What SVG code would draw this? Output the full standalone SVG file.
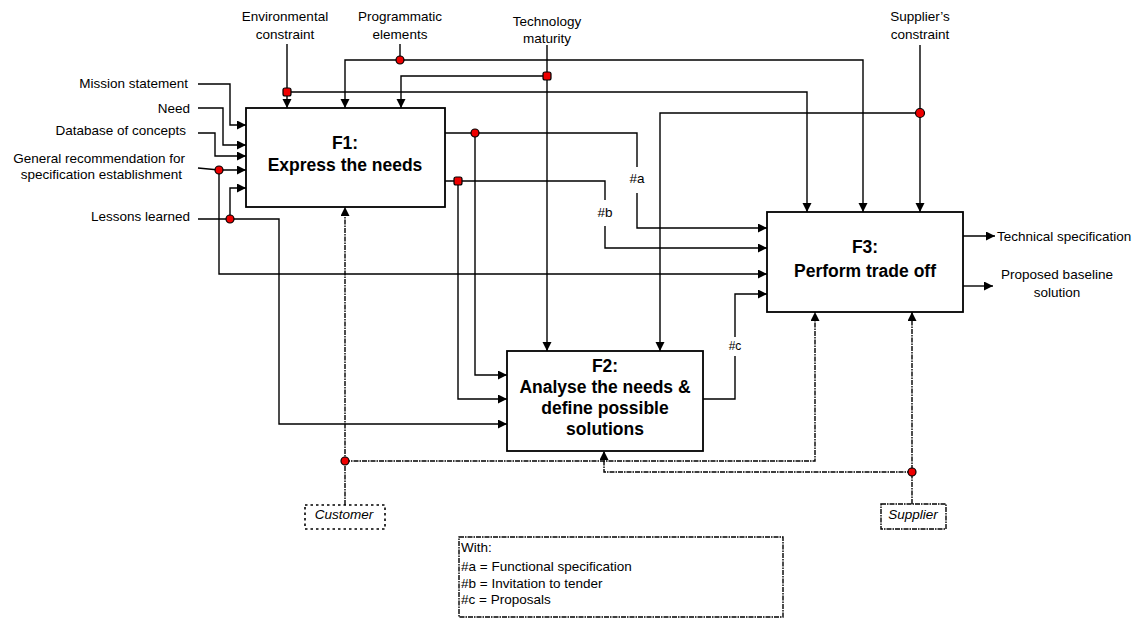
<svg xmlns="http://www.w3.org/2000/svg" width="1138" height="619" viewBox="0 0 1138 619">
<style>
.ln{fill:none;stroke:#000;stroke-width:1.4}
.dash{fill:none;stroke:#000;stroke-width:1.4;stroke-dasharray:5 1 1.5 1}
.dot2{fill:none;stroke:#000;stroke-width:1.6;stroke-dasharray:2.5 3}
.box{fill:#fff;stroke:#000;stroke-width:1.8}
.t{font-family:"Liberation Sans",Arial,sans-serif;font-size:13.5px;fill:#000}
.m{text-anchor:middle}
.e{text-anchor:end}
.b{font-weight:bold;font-size:17.5px;text-anchor:middle}
.i{font-style:italic}
.rd{fill:#e00;stroke:#000;stroke-width:1.2}
</style>
<defs>
<marker id="ah" markerUnits="userSpaceOnUse" markerWidth="10" markerHeight="10" refX="9" refY="4.5" orient="auto">
<path d="M0,0 L9,4.5 L0,9 z" fill="#000"/>
</marker>
</defs>

<g id="connectors">
<!-- left inputs to F1 -->
<path class="ln" d="M198,84 H230 V125 H246" marker-end="url(#ah)"/>
<path class="ln" d="M198,108 H223 V145 H246" marker-end="url(#ah)"/>
<path class="ln" d="M198,133 H215 V156 H246" marker-end="url(#ah)"/>
<path class="ln" d="M198,168 L219,170 H246" marker-end="url(#ah)"/>
<path class="ln" d="M219,170 V274 H767" marker-end="url(#ah)"/>
<path class="ln" d="M198,219 H279 V424 H507" marker-end="url(#ah)"/>
<path class="ln" d="M230,219 V188 H246" marker-end="url(#ah)"/>
<!-- top controls -->
<path class="ln" d="M287,44 V108" marker-end="url(#ah)"/>
<path class="ln" d="M287,92 H807 V212" marker-end="url(#ah)"/>
<path class="ln" d="M400,44 V60"/>
<path class="ln" d="M400,60 H345 V108" marker-end="url(#ah)"/>
<path class="ln" d="M400,60 H863 V212" marker-end="url(#ah)"/>
<path class="ln" d="M547,45 V351" marker-end="url(#ah)"/>
<path class="ln" d="M547,76 H401 V108" marker-end="url(#ah)"/>
<path class="ln" d="M920,45 V212" marker-end="url(#ah)"/>
<path class="ln" d="M920,113 H660 V351" marker-end="url(#ah)"/>
<!-- F1 outputs -->
<path class="ln" d="M443,133 H637 V167"/>
<path class="ln" d="M637,193 V228 H767" marker-end="url(#ah)"/>
<path class="ln" d="M475,133 V375 H507" marker-end="url(#ah)"/>
<path class="ln" d="M443,181 H605 V200"/>
<path class="ln" d="M605,226 V248 H767" marker-end="url(#ah)"/>
<path class="ln" d="M458,181 V399 H507" marker-end="url(#ah)"/>
<!-- F2 output -->
<path class="ln" d="M701,399 H735 V356"/>
<path class="ln" d="M735,337 V294 H767" marker-end="url(#ah)"/>
<!-- F3 outputs -->
<path class="ln" d="M961,236 H995" marker-end="url(#ah)"/>
<path class="ln" d="M961,286 H993" marker-end="url(#ah)"/>
<!-- mechanisms -->
<path class="dash" d="M345,505 V207" marker-end="url(#ah)"/>
<path class="dash" d="M345,461 H815 V312" marker-end="url(#ah)"/>
<path class="dash" d="M912,504 V312" marker-end="url(#ah)"/>
<path class="dash" d="M912,472 H604 V451" marker-end="url(#ah)"/>
<!-- junction dots -->
<rect class="rd" x="283" y="88" width="8" height="8" rx="2"/>
<circle class="rd" cx="400" cy="60" r="4"/>
<rect class="rd" x="543" y="72" width="8" height="8" rx="2"/>
<circle class="rd" cx="920" cy="113" r="4.5"/>
<circle class="rd" cx="219" cy="170" r="4"/>
<circle class="rd" cx="230" cy="219" r="4"/>
<circle class="rd" cx="475" cy="133" r="4"/>
<rect class="rd" x="454" y="177" width="8" height="8" rx="2"/>
<circle class="rd" cx="345" cy="461" r="4"/>
<circle class="rd" cx="912" cy="472" r="4"/>
<!-- connector labels -->
<text class="t m" x="637" y="183">#a</text>
<text class="t m" x="605" y="217">#b</text>
<text class="t m" x="735" y="350" style="font-size:12px">#c</text>
</g>

<g id="F1">
<rect class="box" x="246" y="108" width="199" height="99"/>
<text class="t b" x="345" y="149">F1:</text>
<text class="t b" x="345" y="171">Express the needs</text>
</g>
<g id="F2">
<rect class="box" x="507" y="351" width="196" height="100"/>
<text class="t b" x="605" y="372">F2:</text>
<text class="t b" x="605" y="393">Analyse the needs &amp;</text>
<text class="t b" x="605" y="414">define possible</text>
<text class="t b" x="605" y="435">solutions</text>
</g>
<g id="F3">
<rect class="box" x="767" y="212" width="196" height="100"/>
<text class="t b" x="865" y="253">F3:</text>
<text class="t b" x="865" y="277">Perform trade off</text>
</g>

<g id="inputs">
<text class="t e" x="188" y="88">Mission statement</text>
<text class="t e" x="190" y="113">Need</text>
<text class="t e" x="186" y="135">Database of concepts</text>
<text class="t e" x="185" y="163">General recommendation for</text>
<text class="t e" x="182" y="179">specification establishment</text>
<text class="t e" x="190" y="221">Lessons learned</text>
</g>
<g id="controls">
<text class="t m" x="285" y="21">Environmental</text>
<text class="t m" x="285" y="39">constraint</text>
<text class="t m" x="400" y="21">Programmatic</text>
<text class="t m" x="400" y="39">elements</text>
<text class="t m" x="547" y="26">Technology</text>
<text class="t m" x="547" y="43">maturity</text>
<text class="t m" x="920" y="21">Supplier’s</text>
<text class="t m" x="920" y="39">constraint</text>
</g>
<g id="outputs">
<text class="t" x="997" y="241">Technical specification</text>
<text class="t m" x="1057" y="279">Proposed baseline</text>
<text class="t m" x="1057" y="297">solution</text>
</g>
<g id="customer">
<rect class="dot2" x="305" y="505" width="80" height="24"/>
<text class="t i m" x="344" y="519">Customer</text>
</g>
<g id="supplier">
<rect class="dash" x="881" y="504" width="65" height="25"/>
<text class="t i m" x="913" y="519">Supplier</text>
</g>
<g id="legend">
<rect class="dash" x="459" y="537" width="324" height="80"/>
<text class="t" x="461" y="552">With:</text>
<text class="t" x="461" y="571">#a = Functional specification</text>
<text class="t" x="461" y="588">#b = Invitation to tender</text>
<text class="t" x="461" y="604">#c = Proposals</text>
</g>
</svg>
